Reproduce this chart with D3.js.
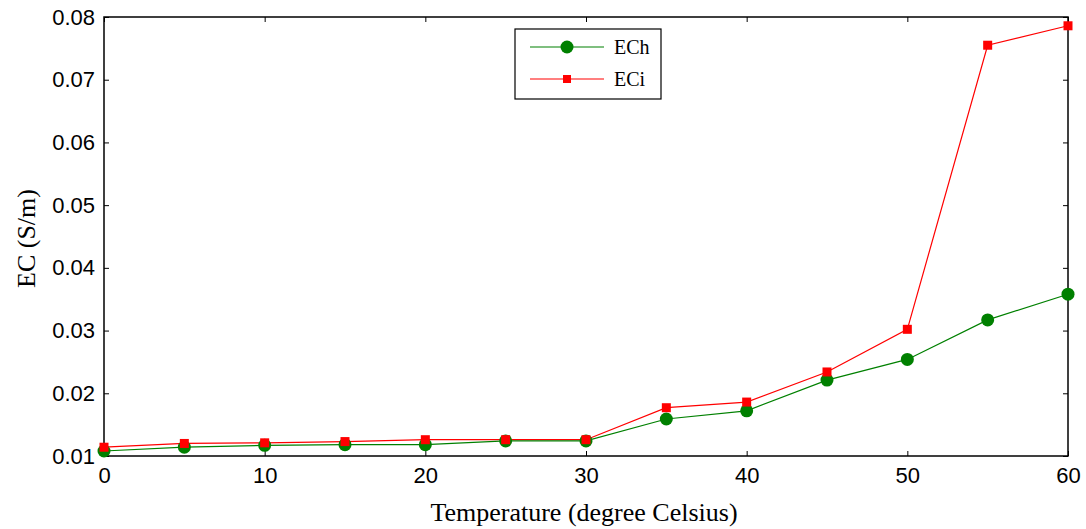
<!DOCTYPE html>
<html>
<head>
<meta charset="utf-8">
<script src="https://cdn.jsdelivr.net/npm/d3@7"></script>
<style>
  body { margin: 0; background: #fff; }
  svg { display: block; }
</style>
</head>
<body>
<svg id="chart" width="1086" height="529"></svg>
<script>
// Data
const temps = [0, 5, 10, 15, 20, 25, 30, 35, 40, 45, 50, 55, 60];
const ech = [0.0108, 0.0114, 0.0117, 0.0118, 0.0118, 0.0124, 0.0124, 0.0159, 0.0172, 0.0221, 0.0254, 0.0317, 0.0358];
const eci = [0.0114, 0.0120, 0.0121, 0.0123, 0.0126, 0.0126, 0.0126, 0.0177, 0.0186, 0.0234, 0.0302, 0.0755, 0.0786];
const xTicks = [0, 10, 20, 30, 40, 50, 60];
const yTicks = [0.01, 0.02, 0.03, 0.04, 0.05, 0.06, 0.07, 0.08];

const L = 104, R = 1068, T = 17, B = 456;
const svg = d3.select("#chart");

const x = d3.scaleLinear().domain([0, 60]).range([L, R]);
const y = d3.scaleLinear().domain([0.01, 0.08]).range([B, T]);

const axisFont = "Arial, 'Liberation Sans', sans-serif";
const serif = "'Times New Roman', 'Liberation Serif', serif";

// box
svg.append("rect")
  .attr("x", L).attr("y", T).attr("width", R - L).attr("height", B - T)
  .attr("fill", "none").attr("stroke", "#000").attr("stroke-width", 1.5);

// axes with inner ticks
const gx = svg.append("g").attr("transform", `translate(0,${B})`)
  .call(d3.axisBottom(x).tickValues(xTicks).tickSize(-5).tickPadding(11).tickFormat(d3.format("d")));
const gxTop = svg.append("g").attr("transform", `translate(0,${T})`)
  .call(d3.axisTop(x).tickValues(xTicks).tickSize(-5).tickFormat(""));
const gy = svg.append("g").attr("transform", `translate(${L},0)`)
  .call(d3.axisLeft(y).tickValues(yTicks).tickSize(-5).tickPadding(9).tickFormat(d3.format(".2f")));
const gyR = svg.append("g").attr("transform", `translate(${R},0)`)
  .call(d3.axisRight(y).tickValues(yTicks).tickSize(-5).tickFormat(""));

[gx, gxTop, gy, gyR].forEach(g => {
  g.select(".domain").remove();
  g.selectAll("line").attr("stroke", "#000");
  g.selectAll("text").attr("font-family", axisFont).attr("font-size", 22).attr("fill", "#000");
});

// axis labels
svg.append("text")
  .attr("x", (L + R) / 2 - 2).attr("y", 521)
  .attr("text-anchor", "middle")
  .attr("font-family", serif).attr("font-size", 26)
  .text("Temperature (degree Celsius)");

svg.append("text")
  .attr("transform", `translate(35,${(T + B) / 2 + 2}) rotate(-90)`)
  .attr("text-anchor", "middle")
  .attr("font-family", serif).attr("font-size", 26)
  .text("EC (S/m)");

// lines
const line = d3.line().x((d, i) => x(temps[i])).y(d => y(d));

svg.append("path").datum(eci)
  .attr("d", line).attr("fill", "none").attr("stroke", "#ff0000").attr("stroke-width", 1.2);
svg.append("path").datum(ech)
  .attr("d", line).attr("fill", "none").attr("stroke", "#008000").attr("stroke-width", 1.2);

svg.append("g").selectAll("circle").data(ech).join("circle")
  .attr("cx", (d, i) => x(temps[i])).attr("cy", d => y(d)).attr("r", 6.5)
  .attr("fill", "#008000");

svg.append("g").selectAll("rect").data(eci).join("rect")
  .attr("x", (d, i) => x(temps[i]) - 4.5).attr("y", d => y(d) - 4.5)
  .attr("width", 9).attr("height", 9)
  .attr("fill", "#ff0000");

// legend
const lg = svg.append("g");
lg.append("rect").attr("x", 515).attr("y", 29).attr("width", 146).attr("height", 70)
  .attr("fill", "#fff").attr("stroke", "#000").attr("stroke-width", 1.2);

lg.append("line").attr("x1", 530).attr("x2", 604).attr("y1", 47).attr("y2", 47)
  .attr("stroke", "#008000").attr("stroke-width", 1.2);
lg.append("circle").attr("cx", 567).attr("cy", 47).attr("r", 6.5).attr("fill", "#008000");
lg.append("text").attr("x", 614).attr("y", 54)
  .attr("font-family", serif).attr("font-size", 20).text("ECh");

lg.append("line").attr("x1", 530).attr("x2", 604).attr("y1", 79).attr("y2", 79)
  .attr("stroke", "#ff0000").attr("stroke-width", 1.2);
lg.append("rect").attr("x", 563).attr("y", 75).attr("width", 8).attr("height", 8).attr("fill", "#ff0000");
lg.append("text").attr("x", 614).attr("y", 86)
  .attr("font-family", serif).attr("font-size", 20).text("ECi");
</script>
</body>
</html>
